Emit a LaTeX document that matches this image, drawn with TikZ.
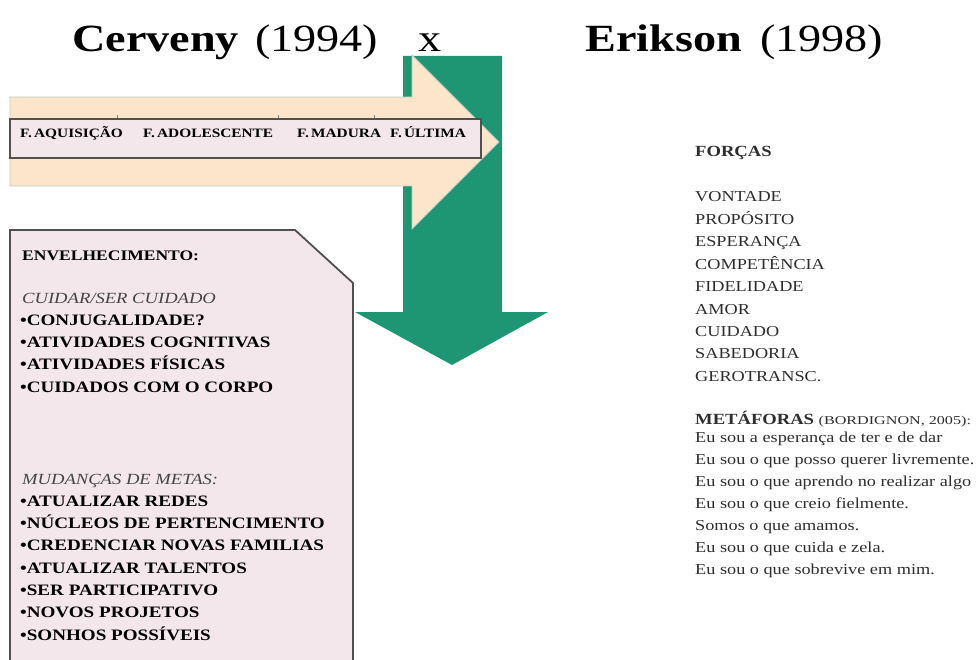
\documentclass[tikz,border=0pt]{standalone}
\usepackage{fontspec}
\setmainfont{Liberation Serif}[FakeStretch=1.2]
\definecolor{arrowgreen}{HTML}{1E9673}
\definecolor{peach}{HTML}{FCE5CA}
\definecolor{peachline}{HTML}{B9CDBE}
\definecolor{boxpink}{HTML}{F3E7EB}
\definecolor{boxline}{HTML}{505050}
\definecolor{txtgrey}{HTML}{2E2E2E}
\definecolor{itgrey}{HTML}{454545}
\begin{document}
\begin{tikzpicture}[x=1pt,y=-1pt,
  txt/.style={inner sep=0pt, anchor=base west, text=black},
  titlefont/.style={font=\fontsize{38.5}{44}\selectfont},
  barfont/.style={font=\fontsize{12.8}{14}\selectfont\bfseries},
  boxhead/.style={font=\fontsize{14.6}{17}\selectfont\bfseries},
  boxit/.style={font=\fontsize{15.5}{18}\selectfont\itshape, text=itgrey},
  boxitem/.style={font=\fontsize{15.9}{18}\selectfont\bfseries},
  rhead/.style={font=\fontsize{15.5}{18}\selectfont\bfseries, text=txtgrey},
  ritem/.style={font=\fontsize{15.2}{18}\selectfont, text=txtgrey},
  greenarrow/.style={fill=arrowgreen, draw=none},
  peacharrow/.style={fill=peach, draw=peachline, line width=0.8pt},
  phasebar/.style={fill=boxpink, draw=boxline, line width=1.2pt},
  agebox/.style={fill=boxpink, draw=boxline, line width=1.8pt, line join=miter},
  tick/.style={draw=gray, line width=0.6pt}]
\useasboundingbox (0,0) rectangle (979,660);
\clip (0,0) rectangle (979,660);
\fill[white] (0,0) rectangle (979,660);

% titles
\node[txt, titlefont] (t1) at (72,52) {\textbf{Cerveny}};
\node[txt, titlefont] (t2) at (255,52) {(1994)};
\node[txt, titlefont] (tx) at (418,52) {x};
\node[txt, titlefont] (t3) at (585,52) {\textbf{Erikson}};
\node[txt, titlefont] (t4) at (760,52) {(1998)};

% green down arrow
\path[greenarrow] (403,56) -- (502,56) -- (502,312) -- (548,312) -- (452,365)
  -- (355,312) -- (403,312) -- cycle;

% peach right arrow
\path[peacharrow] (10,97) -- (412,97) -- (412,55) -- (499,142) -- (412,229)
  -- (412,186) -- (10,186) -- cycle;

% phase bar
\draw[tick] (117,115) -- (117,119);
\draw[tick] (278,115) -- (278,119);
\draw[tick] (374,115) -- (374,119);
\path[phasebar] (10,119) rectangle (481,158);
\node[txt, barfont] (p1) at (20,138) {F.\,AQUISIÇÃO};
\node[txt, barfont] (p2) at (143,138) {F.\,ADOLESCENTE};
\node[txt, barfont] (p3) at (297,138) {F.\,MADURA};
\node[txt, barfont] (p4) at (390,138) {F.\,ÚLTIMA};

% ageing box
\path[agebox] (10,230) -- (295,230) -- (353,283) -- (353,670) -- (10,670) -- cycle;
\node[txt, boxhead] (b0) at (22,260) {ENVELHECIMENTO:};
\node[txt, boxit] (b1) at (22,303) {CUIDAR/SER CUIDADO};
\node[txt, boxitem] (b2) at (20,325.3) {•CONJUGALIDADE?};
\node[txt, boxitem] (b3) at (20,347.6) {•ATIVIDADES COGNITIVAS};
\node[txt, boxitem] (b4) at (20,369.9) {•ATIVIDADES FÍSICAS};
\node[txt, boxitem] (b5) at (20,392.2) {•CUIDADOS COM O CORPO};
\node[txt, boxit] (c1) at (22,484) {MUDANÇAS DE METAS:};
\node[txt, boxitem] (c2) at (20,506.3) {•ATUALIZAR  REDES};
\node[txt, boxitem] (c3) at (20,528.6) {•NÚCLEOS DE PERTENCIMENTO};
\node[txt, boxitem] (c4) at (20,550.9) {•CREDENCIAR NOVAS FAMILIAS};
\node[txt, boxitem] (c5) at (20,573.2) {•ATUALIZAR  TALENTOS};
\node[txt, boxitem] (c6) at (20,595.5) {•SER PARTICIPATIVO};
\node[txt, boxitem] (c7) at (20,617.8) {•NOVOS PROJETOS};
\node[txt, boxitem] (c8) at (20,640.1) {•SONHOS POSSÍVEIS};

% right column: forces
\node[txt, rhead] (f0) at (695,157) {FORÇAS};
\node[txt, ritem] (f1) at (695,202) {VONTADE};
\node[txt, ritem] (f2) at (695,224.4) {PROPÓSITO};
\node[txt, ritem] (f3) at (695,246.8) {ESPERANÇA};
\node[txt, ritem] (f4) at (695,269.2) {COMPETÊNCIA};
\node[txt, ritem] (f5) at (695,291.6) {FIDELIDADE};
\node[txt, ritem] (f6) at (695,314) {AMOR};
\node[txt, ritem] (f7) at (695,336.4) {CUIDADO};
\node[txt, ritem] (f8) at (695,358.8) {SABEDORIA};
\node[txt, ritem] (f9) at (695,381.2) {GEROTRANSC.};

% metaphors
\node[txt, rhead] (m0) at (695,424) {METÁFORAS \fontsize{12}{14}\selectfont\mdseries\scalebox{1.12}[1]{(BORDIGNON, 2005):}};
\node[txt, ritem] (m1) at (695,442) {Eu sou a esperança de ter e de dar};
\node[txt, ritem] (m2) at (695,464) {Eu sou o que posso querer livremente.};
\node[txt, ritem] (m3) at (695,486) {Eu sou o que aprendo no realizar  algo};
\node[txt, ritem] (m4) at (695,508) {Eu sou o que creio fielmente.};
\node[txt, ritem] (m5) at (695,530) {Somos o que amamos.};
\node[txt, ritem] (m6) at (695,552) {Eu sou o que cuida e zela.};
\node[txt, ritem] (m7) at (695,574) {Eu sou o que sobrevive em mim.};
\end{tikzpicture}
\end{document}
